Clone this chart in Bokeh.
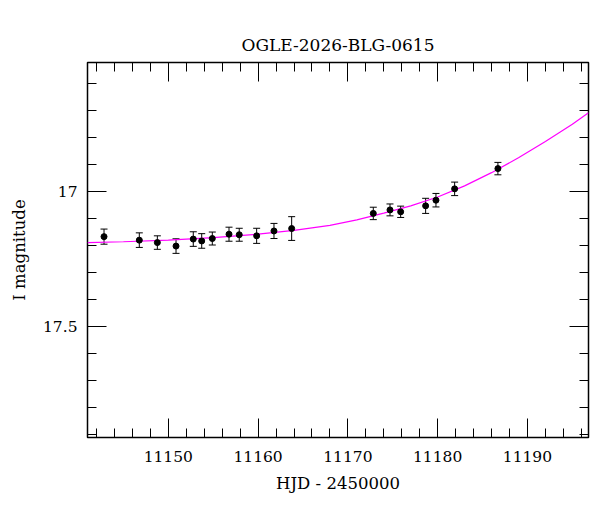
from bokeh.plotting import figure
from bokeh.models import (Range1d, LinearAxis, SingleIntervalTicker, CustomJSTickFormatter,
                          Whisker, ColumnDataSource, TeeHead)
from bokeh.embed import file_html
from bokeh.resources import INLINE

# ---- data ----
hjd = [11142.84, 11146.77, 11148.78, 11150.86, 11152.78, 11153.72, 11154.90, 11156.76,
       11157.90, 11159.84, 11161.77, 11163.74, 11172.83, 11174.69, 11175.88, 11178.66,
       11179.81, 11181.89, 11186.71]
mag = [17.167, 17.180, 17.189, 17.202, 17.176, 17.183, 17.174, 17.158,
       17.160, 17.164, 17.146, 17.137, 17.081, 17.068, 17.075, 17.053,
       17.032, 16.990, 16.915]
err = [0.028, 0.027, 0.025, 0.027, 0.027, 0.027, 0.024, 0.026,
       0.024, 0.028, 0.028, 0.044, 0.023, 0.022, 0.021, 0.028,
       0.025, 0.025, 0.023]

model_hjd = [11141.0, 11145.0, 11150.0, 11155.0, 11160.0, 11164.0, 11168.0, 11171.0,
             11174.0, 11177.0, 11180.0, 11183.0, 11186.0, 11189.0, 11192.0, 11195.0, 11196.8]
model_mag = [17.189, 17.186, 17.180, 17.171, 17.158, 17.144, 17.125, 17.105,
             17.080, 17.053, 17.020, 16.979, 16.930, 16.875, 16.815, 16.751, 16.708]

title_text = "OGLE-2026-BLG-0615"
x_label = "HJD - 2450000"
y_label = "I magnitude"

FONT = "DejaVu Serif"

src = ColumnDataSource(dict(
    t=hjd, mag=mag,
    lower=[m - e for m, e in zip(mag, err)],
    upper=[m + e for m, e in zip(mag, err)],
))

p = figure(width=600, height=512, output_backend="svg", toolbar_location=None,
           x_range=Range1d(11141.0, 11196.8), y_range=Range1d(17.911, 16.522),
           min_border_left=87, min_border_right=12, min_border_top=62, min_border_bottom=75,
           x_axis_type=None, y_axis_type=None)

p.background_fill_color = "white"
p.border_fill_color = "white"
p.outline_line_color = "black"
p.outline_line_width = 1.5
p.grid.visible = False

p.title.text = title_text
p.title.align = "center"
p.title.text_font = FONT
p.title.text_font_size = "17px"
p.title.text_font_style = "normal"
p.title.text_color = "black"
p.title.standoff = 16


def make_axis(interval, show_labels, label=None):
    ax = LinearAxis(ticker=SingleIntervalTicker(interval=interval, num_minor_ticks=5))
    ax.axis_line_color = None
    ax.major_tick_in = 19
    ax.major_tick_out = 0
    ax.minor_tick_in = 9
    ax.minor_tick_out = 0
    ax.major_tick_line_color = "black"
    ax.minor_tick_line_color = "black"
    ax.major_tick_line_width = 1
    ax.minor_tick_line_width = 1
    if show_labels:
        ax.major_label_text_font = FONT
        ax.major_label_text_font_size = "15.5px"
        ax.major_label_text_color = "black"
        ax.formatter = CustomJSTickFormatter(code="return String(Math.round(tick*10)/10);")
        if label:
            ax.axis_label = label
            ax.axis_label_text_font = FONT
            ax.axis_label_text_font_size = "16.5px"
            ax.axis_label_text_font_style = "normal"
            ax.axis_label_text_color = "black"
    else:
        ax.major_label_text_font_size = "0px"
        ax.major_label_standoff = 0
    return ax


xb = make_axis(10, True, x_label)
xb.major_label_standoff = 13
xb.axis_label_standoff = 9
p.add_layout(xb, "below")

yl = make_axis(0.5, True, y_label)
yl.major_label_standoff = 10
yl.axis_label_standoff = 11
p.add_layout(yl, "left")

p.add_layout(make_axis(10, False), "above")
p.add_layout(make_axis(0.5, False), "right")

p.line(model_hjd, model_mag, line_color="#ff00ff", line_width=1.2)

wh = Whisker(base="t", lower="lower", upper="upper", source=src, dimension="height",
             line_color="black", line_width=1,
             upper_head=TeeHead(size=7, line_color="black", line_width=1),
             lower_head=TeeHead(size=7, line_color="black", line_width=1))
p.add_layout(wh)

p.scatter(x="t", y="mag", source=src, size=6, color="black")

open("out.html", "w").write(file_html(p, INLINE))
